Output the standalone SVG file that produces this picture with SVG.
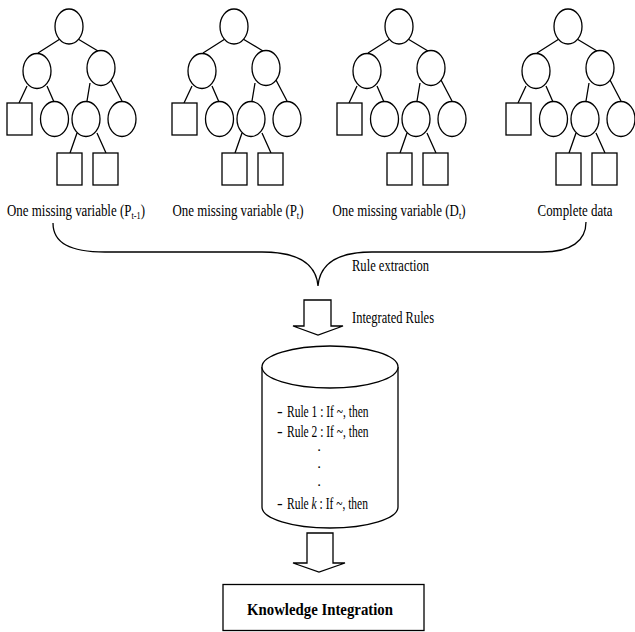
<svg xmlns="http://www.w3.org/2000/svg" xmlns:xlink="http://www.w3.org/1999/xlink" width="635" height="632" viewBox="0 0 635 632">
<style>
.n{fill:#fff;stroke:#000;stroke-width:1.3}
.e{fill:none;stroke:#000;stroke-width:1.3}
.t{font-family:"Liberation Serif","Times New Roman",serif;font-size:17px;fill:#000}
.b{font-weight:bold}
.d{font-family:"Liberation Serif","Times New Roman",serif;font-size:11px;font-weight:bold;fill:#000}
</style>
<defs>
<path id="tedges" class="e" d="M-9,39 L-31,53 M9,39 L29,51 M-42,86 L-50,103 M-22,86 L-15,102 M21,83 L18,101 M42,80 L53,101 M8,133 L1,153 M28,133 L37,153"/>
</defs>
<rect width="635" height="632" fill="#fff"/>
<g id="connectors">
<use href="#tedges" x="69"/>
<use href="#tedges" x="234"/>
<use href="#tedges" x="399"/>
<use href="#tedges" x="568"/>
<path id="brace" class="e" d="M53,223 C53,243 70,252 105,252 L262,252 C296,252 316,262 318,286 M586,222 C586,241 571,252 542,252 L372,252 C340,252 320,262 318,286"/>
<polygon id="arrow1" class="n" points="304,300 331,300 331,326 343,326 318,335 293,326 304,326"/>
<polygon id="arrow2" class="n" points="307,533 333,533 333,563 345,563 319,572 293,563 307,563"/>
</g>
<g id="tree1" transform="translate(69,0)">
<g id="tree1-root"><ellipse class="n" cx="0" cy="26.5" rx="14" ry="17.5"/></g>
<g id="tree1-l"><ellipse class="n" cx="-32" cy="71" rx="14" ry="17.5"/></g>
<g id="tree1-r"><ellipse class="n" cx="32" cy="68" rx="14" ry="17.5"/></g>
<g id="tree1-ll"><rect class="n" x="-62" y="103" width="25" height="32"/></g>
<g id="tree1-lr"><ellipse class="n" cx="-14.5" cy="119" rx="14" ry="17.5"/></g>
<g id="tree1-rl"><ellipse class="n" cx="17" cy="119" rx="14" ry="17.5"/></g>
<g id="tree1-rr"><ellipse class="n" cx="53" cy="119" rx="14" ry="17.5"/></g>
<g id="tree1-rll"><rect class="n" x="-12" y="153" width="25" height="32"/></g>
<g id="tree1-rlr"><rect class="n" x="24" y="153" width="25" height="32"/></g>
</g>
<g id="tree2" transform="translate(234,0)">
<g id="tree2-root"><ellipse class="n" cx="0" cy="26.5" rx="14" ry="17.5"/></g>
<g id="tree2-l"><ellipse class="n" cx="-32" cy="71" rx="14" ry="17.5"/></g>
<g id="tree2-r"><ellipse class="n" cx="32" cy="68" rx="14" ry="17.5"/></g>
<g id="tree2-ll"><rect class="n" x="-62" y="103" width="25" height="32"/></g>
<g id="tree2-lr"><ellipse class="n" cx="-14.5" cy="119" rx="14" ry="17.5"/></g>
<g id="tree2-rl"><ellipse class="n" cx="17" cy="119" rx="14" ry="17.5"/></g>
<g id="tree2-rr"><ellipse class="n" cx="53" cy="119" rx="14" ry="17.5"/></g>
<g id="tree2-rll"><rect class="n" x="-12" y="153" width="25" height="32"/></g>
<g id="tree2-rlr"><rect class="n" x="24" y="153" width="25" height="32"/></g>
</g>
<g id="tree3" transform="translate(399,0)">
<g id="tree3-root"><ellipse class="n" cx="0" cy="26.5" rx="14" ry="17.5"/></g>
<g id="tree3-l"><ellipse class="n" cx="-32" cy="71" rx="14" ry="17.5"/></g>
<g id="tree3-r"><ellipse class="n" cx="32" cy="68" rx="14" ry="17.5"/></g>
<g id="tree3-ll"><rect class="n" x="-62" y="103" width="25" height="32"/></g>
<g id="tree3-lr"><ellipse class="n" cx="-14.5" cy="119" rx="14" ry="17.5"/></g>
<g id="tree3-rl"><ellipse class="n" cx="17" cy="119" rx="14" ry="17.5"/></g>
<g id="tree3-rr"><ellipse class="n" cx="53" cy="119" rx="14" ry="17.5"/></g>
<g id="tree3-rll"><rect class="n" x="-12" y="153" width="25" height="32"/></g>
<g id="tree3-rlr"><rect class="n" x="24" y="153" width="25" height="32"/></g>
</g>
<g id="tree4" transform="translate(568,0)">
<g id="tree4-root"><ellipse class="n" cx="0" cy="26.5" rx="14" ry="17.5"/></g>
<g id="tree4-l"><ellipse class="n" cx="-32" cy="71" rx="14" ry="17.5"/></g>
<g id="tree4-r"><ellipse class="n" cx="32" cy="68" rx="14" ry="17.5"/></g>
<g id="tree4-ll"><rect class="n" x="-62" y="103" width="25" height="32"/></g>
<g id="tree4-lr"><ellipse class="n" cx="-14.5" cy="119" rx="14" ry="17.5"/></g>
<g id="tree4-rl"><ellipse class="n" cx="17" cy="119" rx="14" ry="17.5"/></g>
<g id="tree4-rr"><ellipse class="n" cx="53" cy="119" rx="14" ry="17.5"/></g>
<g id="tree4-rll"><rect class="n" x="-12" y="153" width="25" height="32"/></g>
<g id="tree4-rlr"><rect class="n" x="24" y="153" width="25" height="32"/></g>
</g>
<g id="labels">
<text class="t" text-anchor="middle" transform="translate(76,216) scale(0.76,1)">One missing variable (P<tspan font-size="11" dy="3">t-1</tspan><tspan dy="-3">)</tspan></text>
<text class="t" text-anchor="middle" transform="translate(238,216) scale(0.76,1)">One missing variable (P<tspan font-size="11" dy="3">t</tspan><tspan dy="-3">)</tspan></text>
<text class="t" text-anchor="middle" transform="translate(399,216) scale(0.76,1)">One missing variable (D<tspan font-size="11" dy="3">t</tspan><tspan dy="-3">)</tspan></text>
<text class="t" text-anchor="middle" transform="translate(575,216) scale(0.76,1)">Complete data</text>
<text class="t" x="352" y="271" textLength="77" lengthAdjust="spacingAndGlyphs">Rule extraction</text>
<text class="t" x="352" y="323" textLength="82" lengthAdjust="spacingAndGlyphs">Integrated Rules</text>
</g>
<g id="rulebase">
<path class="n" d="M262,367 L262,507 A68,21 0 0 0 398,507 L398,367"/>
<ellipse class="n" cx="330" cy="367" rx="68" ry="21"/>
<text class="t" x="277" y="417">-</text>
<text class="t" transform="translate(287,417) scale(0.677,1)">Rule 1 : If ~, then</text>
<text class="t" x="277" y="436.5">-</text>
<text class="t" transform="translate(287,436.5) scale(0.677,1)">Rule 2 : If ~, then</text>
<text class="d" x="319" y="451" text-anchor="middle">.</text>
<text class="d" x="319" y="468" text-anchor="middle">.</text>
<text class="d" x="319" y="486" text-anchor="middle">.</text>
<text class="t" x="277" y="509">-</text>
<text class="t" transform="translate(287,509) scale(0.677,1)">Rule <tspan font-style="italic">k</tspan> : If ~, then</text>
</g>
<g id="knowledge">
<rect class="n" x="223" y="584.5" width="201" height="46"/>
<text class="t b" x="247" y="615" textLength="146" lengthAdjust="spacingAndGlyphs" style="font-size:17.5px">Knowledge Integration</text>
</g>
</svg>
